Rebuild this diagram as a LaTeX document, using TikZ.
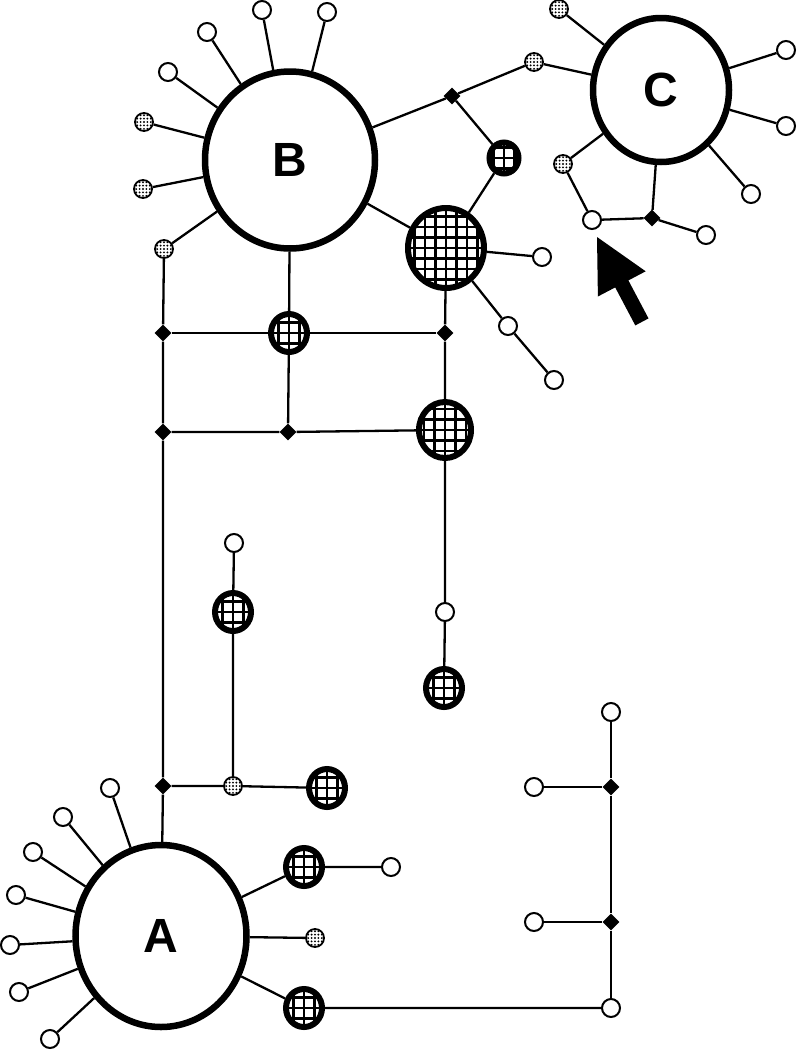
\documentclass[tikz,border=0pt]{standalone}
\usepackage{fontspec}
\setmainfont{Liberation Sans}
\usetikzlibrary{shapes.geometric}
\begin{document}
\begin{tikzpicture}[x=1pt,y=-1pt,
 edge/.style={line width=2.3pt},
 openc/.style={ellipse,draw,line width=2pt,fill=white,minimum width=18pt,minimum height=18pt,inner sep=0pt},
 dotc/.style={ellipse,draw,line width=1.8pt,fill=white,minimum width=18pt,minimum height=18pt,inner sep=0pt,
   path picture={\foreach \i in {-3,...,3}{\foreach \j in {-3,...,3}{\fill[black] ([shift={(\i*3.4pt,\j*3.4pt)}]path picture bounding box.center) circle[radius=1.05pt];}}}},
 hatc/.style={ellipse,draw,line width=6pt,fill=white,inner sep=0pt,
   path picture={\foreach \i in {-6,...,6}{\draw[black,line width=2.6pt] ([shift={(\i*10.5pt,-70pt)}]path picture bounding box.center) -- ++(0pt,140pt); \draw[black,line width=2.6pt] ([shift={(-70pt,\i*10.5pt)}]path picture bounding box.center) -- ++(140pt,0pt);}}},
 junc/.style={diamond,fill=black,minimum width=17pt,minimum height=17pt,inner sep=0pt},
 hub/.style={ellipse,draw,line width=6.5pt,fill=white,inner sep=0pt,font=\fontsize{48}{48}\selectfont\bfseries}]
\path[use as bounding box] (0,0) rectangle (796,1050);

% hubs
\node[hub,minimum width=170pt,minimum height=177pt] (B) at (290,160) {B};
\node[hub,minimum width=136pt,minimum height=144pt] (C) at (661,90) {C};
\node[hub,minimum width=171pt,minimum height=182pt] (A) at (161,936) {A};

% B leaves
\node[openc] (bo1) at (262,10) {};
\node[openc] (bo2) at (327,12) {};
\node[openc] (bo3) at (207,32) {};
\node[openc] (bo4) at (168,72) {};
\node[dotc] (bd1) at (144,122) {};
\node[dotc] (bd2) at (143,189) {};
\node[dotc] (bd3) at (164,249) {};

% C leaves
\node[dotc] (cd1) at (559,9) {};
\node[dotc] (cd2) at (534,62) {};
\node[openc] (co1) at (786,50) {};
\node[openc] (co2) at (786,126) {};
\node[openc] (co3) at (751,194) {};
\node[dotc] (cd3) at (563,164) {};
\node[openc] (co4) at (592,220) {};
\node[junc] (cD) at (652,218) {};
\node[openc] (co5) at (706,235) {};

% between B and C
\node[junc] (dB) at (452,96) {};
\node[hatc,minimum width=29pt,minimum height=31pt] (hS) at (504,158) {};
\node[hatc,minimum width=76pt,minimum height=80pt] (hB) at (446,248) {};
\node[openc] (ob1) at (542,257) {};
\node[openc] (ob2) at (508,326) {};
\node[openc] (ob3) at (554,380) {};

% grid
\node[junc] (dH1) at (445,333) {};
\node[hatc,minimum width=36pt,minimum height=38pt] (hM) at (289,333) {};
\node[junc] (dL1) at (163,333) {};
\node[junc] (dL2) at (163,432) {};
\node[junc] (dM2) at (288,432) {};
\node[hatc,minimum width=52pt,minimum height=56pt] (hR) at (445,430) {};
\node[openc] (oR) at (445,612) {};
\node[hatc,minimum width=36pt,minimum height=38pt] (hR2) at (444,688) {};

% middle left
\node[openc] (oL) at (234,543) {};
\node[hatc,minimum width=36pt,minimum height=38pt] (hL) at (233,612) {};
\node[junc] (dL3) at (163,786) {};
\node[dotc] (dotL) at (233,786) {};
\node[hatc,minimum width=36pt,minimum height=38pt] (hL2) at (327,788) {};

% A leaves
\node[openc] (ao1) at (110,788) {};
\node[openc] (ao2) at (63,817) {};
\node[openc] (ao3) at (33,852) {};
\node[openc] (ao4) at (16,895) {};
\node[openc] (ao5) at (10,945) {};
\node[openc] (ao6) at (19,992) {};
\node[openc] (ao7) at (50,1039) {};
\node[hatc,minimum width=36pt,minimum height=38pt] (ha1) at (304,867) {};
\node[openc] (oa1) at (391,867) {};
\node[dotc] (da) at (315,938) {};
\node[hatc,minimum width=36pt,minimum height=38pt] (ha2) at (304,1008) {};

% right structure
\node[openc] (or1) at (611,712) {};
\node[junc] (dr1) at (611,787) {};
\node[openc] (ol1) at (534,787) {};
\node[junc] (dr2) at (611,922) {};
\node[openc] (ol2) at (534,922) {};
\node[openc] (or4) at (611,1008) {};

% edges
\foreach \n in {bo1,bo2,bo3,bo4,bd1,bd2,bd3,dB,hB,hM}{\draw[edge] (B) -- (\n);}
\draw[edge] (bd3) -- (dL1) -- (dL2) -- (dL3) -- (A);
\draw[edge] (dL1) -- (hM) -- (dH1);
\draw[edge] (hM) -- (dM2);
\draw[edge] (dL2) -- (dM2) -- (hR);
\draw[edge] (hB) -- (dH1) -- (hR) -- (oR) -- (hR2);
\draw[edge] (hB) -- (hS) -- (dB) -- (cd2) -- (C);
\draw[edge] (hB) -- (ob1);
\draw[edge] (hB) -- (ob2) -- (ob3);
\foreach \n in {cd1,co1,co2,co3,cd3,cD}{\draw[edge] (C) -- (\n);}
\draw[edge] (cd3) -- (co4) -- (cD) -- (co5);
\draw[edge] (oL) -- (hL) -- (dotL);
\draw[edge] (dL3) -- (dotL) -- (hL2);
\foreach \n in {ao1,ao2,ao3,ao4,ao5,ao6,ao7,da}{\draw[edge] (A) -- (\n);}
\draw[edge] (A) -- (ha1) -- (oa1);
\draw[edge] (A) -- (ha2) -- (or4);
\draw[edge] (or1) -- (dr1) -- (dr2) -- (or4);
\draw[edge] (ol1) -- (dr1);
\draw[edge] (ol2) -- (dr2);

% pointer arrow
\fill (597,237) -- (597.9,296.5) -- (615.2,287.4) -- (635.3,325.4) -- (648.5,318.4) -- (628.4,280.4) -- (645.7,271.3) -- cycle;
\end{tikzpicture}
\end{document}
